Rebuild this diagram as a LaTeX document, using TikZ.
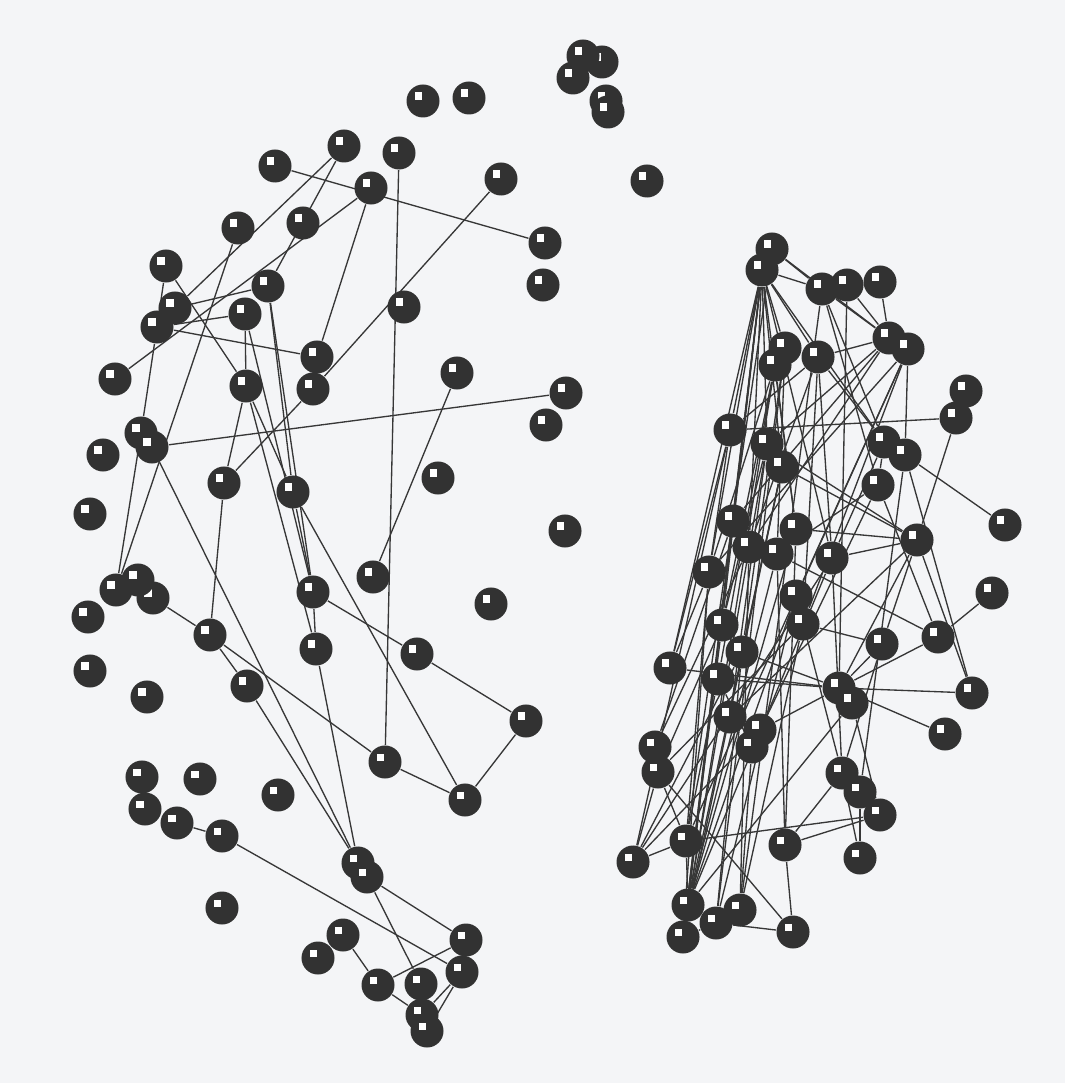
\documentclass[tikz,border=0pt]{standalone}
\usetikzlibrary{calc}
\definecolor{bgcol}{RGB}{244,245,247}
\definecolor{ballcol}{RGB}{50,50,50}
\definecolor{linecol}{RGB}{55,55,55}
\pgfdeclarelayer{bg}
\pgfdeclarelayer{edges}
\pgfsetlayers{bg,edges,main}
\tikzset{
  ball/.style={circle, fill=ballcol, inner sep=0pt, minimum size=0.33cm,
    path picture={\fill[white] ([shift={(-0.085cm,0.01cm)}]path picture bounding box.center) rectangle ([shift={(-0.01cm,0.085cm)}]path picture bounding box.center);}},
  link/.style={draw=linecol, line width=0.38pt}
}
\begin{document}
\begin{tikzpicture}[x=0.01cm,y=-0.01cm]
\begin{pgfonlayer}{bg}
\fill[bgcol] (0,0) rectangle (1065,1083);
\end{pgfonlayer}
\useasboundingbox (0,0) rectangle (1065,1083);
% top isolated
\node[ball] (t2) at (602,62) {};
\node[ball] (t1) at (583,56) {};
\node[ball] (t3) at (573,78) {};
\node[ball] (t4) at (606,101) {};
\node[ball] (t5) at (608,112) {};
\node[ball] (u1) at (423,101) {};
\node[ball] (u2) at (469,98) {};
\node[ball] (u3) at (647,181) {};
\node[ball] (e1) at (545,243) {};
\node[ball] (e2) at (543,285) {};
% left cluster
\node[ball] (A) at (344,146) {};
\node[ball] (B) at (399,153) {};
\node[ball] (C) at (275,166) {};
\node[ball] (D) at (371,188) {};
\node[ball] (E) at (501,179) {};
\node[ball] (F) at (238,228) {};
\node[ball] (G) at (303,223) {};
\node[ball] (H) at (166,266) {};
\node[ball] (I) at (268,286) {};
\node[ball] (J) at (175,308) {};
\node[ball] (K) at (157,327) {};
\node[ball] (L) at (245,314) {};
\node[ball] (M) at (404,307) {};
\node[ball] (N) at (317,357) {};
\node[ball] (O) at (313,389) {};
\node[ball] (P) at (115,379) {};
\node[ball] (Q) at (246,386) {};
\node[ball] (R) at (457,373) {};
\node[ball] (S) at (566,393) {};
\node[ball] (T) at (546,425) {};
\node[ball] (U) at (141,433) {};
\node[ball] (V) at (152,447) {};
\node[ball] (W) at (103,455) {};
\node[ball] (X) at (224,483) {};
\node[ball] (Y) at (293,492) {};
\node[ball] (Z) at (438,478) {};
\node[ball] (AA) at (90,514) {};
\node[ball] (AB) at (565,531) {};
\node[ball] (AC) at (373,577) {};
\node[ball] (AD) at (313,592) {};
\node[ball] (AE) at (491,604) {};
\node[ball] (AF1) at (116,590) {};
\node[ball] (AF3) at (153,598) {};
\node[ball] (AF2) at (138,580) {};
\node[ball] (AG) at (88,617) {};
\node[ball] (AH) at (210,635) {};
\node[ball] (AI) at (316,649) {};
\node[ball] (AJ) at (417,654) {};
\node[ball] (AK) at (90,671) {};
\node[ball] (AL) at (147,697) {};
\node[ball] (AM) at (247,686) {};
\node[ball] (AN) at (526,721) {};
\node[ball] (AO) at (385,762) {};
\node[ball] (AP) at (465,800) {};
\node[ball] (AQ) at (142,777) {};
\node[ball] (AR) at (200,779) {};
\node[ball] (AS) at (278,795) {};
\node[ball] (AT) at (145,809) {};
\node[ball] (AU) at (177,823) {};
\node[ball] (AV) at (222,836) {};
\node[ball] (AW1) at (358,863) {};
\node[ball] (AW2) at (367,877) {};
\node[ball] (AX) at (222,908) {};
\node[ball] (AY) at (343,935) {};
\node[ball] (AZ) at (318,958) {};
\node[ball] (BA) at (466,940) {};
\node[ball] (BB) at (462,972) {};
\node[ball] (BC) at (378,985) {};
\node[ball] (BD) at (421,984) {};
\node[ball] (BE1) at (422,1015) {};
\node[ball] (BE2) at (427,1031) {};
% right cluster
\node[ball] (r1) at (772,249) {};
\node[ball] (r2) at (762,270) {};
\node[ball] (r3) at (822,289) {};
\node[ball] (r4) at (847,285) {};
\node[ball] (r5) at (880,282) {};
\node[ball] (r6) at (889,338) {};
\node[ball] (r7) at (908,349) {};
\node[ball] (r8) at (785,348) {};
\node[ball] (r9) at (775,365) {};
\node[ball] (r10) at (818,357) {};
\node[ball] (r11) at (966,391) {};
\node[ball] (r12) at (956,418) {};
\node[ball] (r13) at (730,430) {};
\node[ball] (r14) at (767,444) {};
\node[ball] (r15) at (884,442) {};
\node[ball] (r16) at (905,455) {};
\node[ball] (r17) at (782,467) {};
\node[ball] (r18) at (878,485) {};
\node[ball] (r19) at (1005,525) {};
\node[ball] (r20) at (733,521) {};
\node[ball] (r21) at (796,529) {};
\node[ball] (r22) at (749,547) {};
\node[ball] (r23) at (777,554) {};
\node[ball] (r24) at (832,558) {};
\node[ball] (r25) at (917,540) {};
\node[ball] (r26) at (709,572) {};
\node[ball] (r27) at (992,593) {};
\node[ball] (r28) at (796,596) {};
\node[ball] (r29) at (803,624) {};
\node[ball] (r30) at (722,625) {};
\node[ball] (r31) at (742,652) {};
\node[ball] (r32) at (882,644) {};
\node[ball] (r33) at (938,637) {};
\node[ball] (r34) at (670,668) {};
\node[ball] (r35) at (718,679) {};
\node[ball] (r36a) at (839,688) {};
\node[ball] (r36b) at (852,703) {};
\node[ball] (r37) at (972,693) {};
\node[ball] (r38) at (730,717) {};
\node[ball] (r39) at (760,730) {};
\node[ball] (r40) at (752,747) {};
\node[ball] (r41) at (945,734) {};
\node[ball] (r42) at (655,747) {};
\node[ball] (r43) at (658,772) {};
\node[ball] (r44) at (842,773) {};
\node[ball] (r45) at (860,792) {};
\node[ball] (r46) at (880,815) {};
\node[ball] (r47) at (686,841) {};
\node[ball] (r48) at (633,862) {};
\node[ball] (r49) at (785,845) {};
\node[ball] (r50) at (688,905) {};
\node[ball] (r51) at (740,910) {};
\node[ball] (r52) at (716,923) {};
\node[ball] (r53) at (683,937) {};
\node[ball] (r54) at (793,932) {};
\node[ball] (r55) at (860,858) {};
\begin{pgfonlayer}{edges}
\foreach \a/\b in {A/J,A/I,P/D,D/N,C/e1,B/AO,E/O,H/K,K/U,U/AF1,F/AF1,H/Q,K/L,K/N,J/I,L/Q,I/Y,I/AD,L/AD,Q/AI,Q/Y,Q/X,X/AH,X/O,Y/AD,Y/AP,AD/AI,AI/AW1,V/S,V/AW1,R/AC,AD/AJ,AJ/AN,AN/AP,AO/AP,AF3/AH,AH/AO,AH/AM,AM/AW1,AU/AV,AV/BB,AW2/BA,AW2/BD,AY/BC,BC/BA,BC/BE1,BB/BE1,BB/BE2}
  \draw[link] (\a) -- (\b);
\foreach \a/\b in {r1/r3,r2/r3,r1/r6,r2/r13,r2/r14,r2/r8,r2/r10,r2/r15,r2/r34,r2/r26,r2/r20,r2/r17,r2/r24,r2/r30,r2/r21,r2/r22,
  r2/r50,r2/r53,r1/r47,r14/r50,r8/r52,r13/r48,r7/r47,r3/r51,r9/r53,r17/r50,
  r3/r6,r3/r15,r3/r18,r4/r6,r4/r36a,r5/r6,r6/r10,r6/r20,r6/r22,r6/r14,r7/r16,r7/r28,r7/r29,r7/r26,
  r8/r23,r8/r31,r9/r26,r9/r30,r9/r21,r9/r35,r10/r13,r10/r15,r10/r29,r10/r22,r10/r24,r13/r12,r13/r34,r13/r26,r12/r25,
  r14/r25,r14/r30,r14/r38,r15/r24,r15/r18,r16/r19,r16/r37,r16/r45,r17/r25,r17/r53,r17/r31,r18/r33,r18/r23,r18/r40,
  r20/r42,r20/r53,r21/r25,r21/r50,r22/r42,r22/r51,r23/r33,r23/r50,r23/r49,r24/r25,r24/r44,r24/r48,r24/r50,
  r25/r37,r25/r32,r25/r36a,r25/r38,r26/r34,r26/r53,r26/r47,r27/r33,r28/r44,r28/r50,r28/r52,r29/r51,r29/r43,r29/r32,
  r30/r53,r30/r43,r31/r36a,r31/r52,r31/r48,r32/r36a,r32/r44,r33/r36a,r34/r36a,r35/r36a,r35/r47,r36a/r37,r36a/r41,
  r36b/r50,r36b/r46,r39/r36a,r39/r48,r40/r51,r40/r35,r43/r48,r43/r47,r43/r54,r44/r49,r44/r55,r45/r55,r46/r49,r46/r47,
  r47/r48,r47/r50,r49/r54,r49/r21,r52/r54,r53/r52}
  \draw[link] (\a) -- (\b);
\end{pgfonlayer}
\end{tikzpicture}
\end{document}
